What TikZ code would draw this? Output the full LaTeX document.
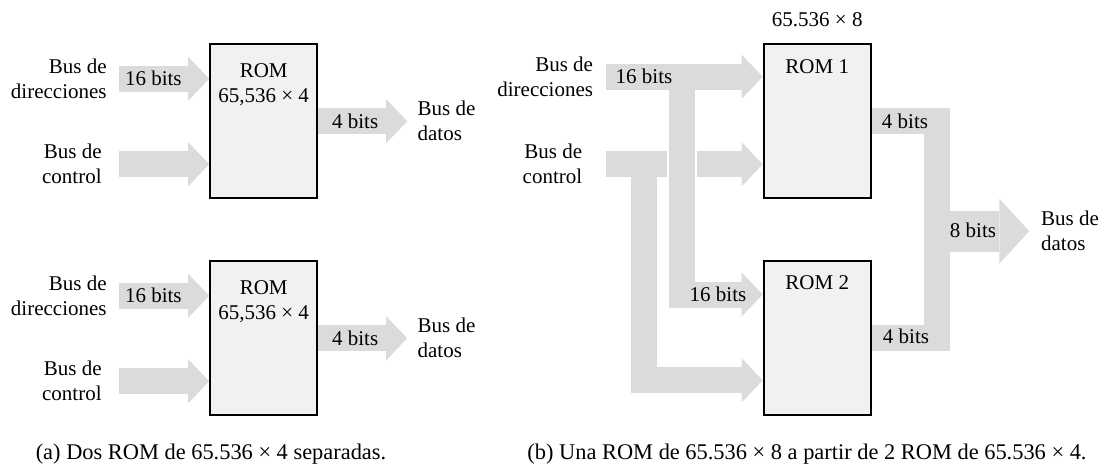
\documentclass[tikz,border=0pt]{standalone}
\usepackage{fontspec}
\setmainfont{Liberation Serif}
\usepackage{tikz}
\usetikzlibrary{arrows.meta,positioning,calc,backgrounds}
\definecolor{busgray}{RGB}{218,219,221}
\definecolor{romfill}{RGB}{240,241,240}
\tikzset{
  rom/.style={draw=black, line width=1pt, fill=romfill, minimum width=53.5pt, minimum height=77pt, inner sep=0pt},
  romtxt/.style={align=center, inner sep=0pt},
  busline/.style={draw=busgray, line width=13pt},
  bus/.style={busline, -{Triangle[length=10.5pt, width=22pt, line width=0pt]}},
  bus8/.style={draw=busgray, line width=20.5pt, -{Triangle[length=15pt, width=32.5pt, line width=0pt]}},
  bits/.style={inner sep=0pt},
  lbl/.style={inner sep=0pt, align=right},
  lblr/.style={inner sep=0pt, align=left},
  captxt/.style={inner sep=0pt, font=\fontsize{11.2}{13.5}\selectfont},
}

\begin{document}
\begin{tikzpicture}[x=0.5pt, y=-0.5pt, font=\fontsize{10.5}{12.5}\selectfont]
			\useasboundingbox (0,0) rectangle (1106,467);
			% (a) two separate ROMs
			\foreach \i/\dy in {1/0,2/217}{
				\node[rom] (romA\i) at (263.7,{121.2+\dy}) {};
				\node[romtxt, below=10pt of romA\i.north] (romAt\i) {ROM\\65,536 × 4};
				\coordinate (adA\i) at (119,{78.8+\dy});
				\coordinate (ctA\i) at (119,{164.2+\dy});
				\coordinate (dtA\i) at ($(romA\i.east)+(89,0)$);
				\begin{scope}[on background layer]
					\draw[bus] (adA\i) -- (adA\i -| romA\i.west);
					\draw[bus] (ctA\i) -- (ctA\i -| romA\i.west);
					\draw[bus] (romA\i.east) -- (dtA\i);
				\end{scope}
				\node[bits] (bA\i) at ($(adA\i)+(34.3,0)$) {16 bits};
				\node[bits] (oA\i) at ($(romA\i.east)+(37,0)$) {4 bits};
				\node[lbl, left=6pt of adA\i] (adlA\i) {Bus de\\direcciones};
				\node[lbl, left=8.5pt of ctA\i] (ctlA\i) {Bus de\\control};
				\node[lblr, right=5pt of dtA\i] (dtlA\i) {Bus de\\datos};
			}
			% (b) one 65.536 x 8 ROM from two
			\node[rom] (romB1) at (817.2,121.3) {};
			\node[rom] (romB2) at (817.2,337.5) {};
			\node[romtxt, below=8pt of romB1.north] (romBt1) {ROM 1};
			\node[romtxt, below=8pt of romB2.north] (romBt2) {ROM 2};
			\node[inner sep=0pt, above=8pt of romB1.north] (size) {65.536 × 8};
			\coordinate (adB) at (606,76.7);
			\coordinate (adV) at (682,76.7);
			\coordinate (adV2) at (682,294.5);
			\coordinate (ctB) at (606,164.3);
			\coordinate (ctV) at (643.7,164.3);
			\coordinate (ctV2) at (643.7,380.3);
			\coordinate (dtV) at (937,231.2);
			\coordinate (dtB) at (1029.3,231.2);
			\coordinate (cross) at (adV |- ctB);
			\begin{scope}[on background layer]
				\draw[bus] (ctB) -- (ctB -| romB1.west);
				\draw[bus] (ctV) -- (ctV2) -- (ctV2 -| romB2.west);
				\fill[white] ($(cross)+(-15,-17)$) rectangle ($(cross)+(15,17)$);
				\draw[bus] (adB) -- (adB -| romB1.west);
				\draw[bus] (adV) -- (adV2) -- (adV2 -| romB2.west);
				\draw[busline] (romB1.east) -- (romB1.east -| dtV) -- (romB2.east -| dtV) -- (romB2.east);
				\draw[bus8] (dtV) -- (dtB);
			\end{scope}
			\node[bits] (bB1) at (644,76.7) {16 bits};
			\node[bits] (bB2) at (718,294.5) {16 bits};
			\node[bits] (oB1) at (905,121) {4 bits};
			\node[bits] (oB2) at (906,336.5) {4 bits};
			\node[bits] (oB3) at (973,230.5) {8 bits};
			\node[lbl, left=6.3pt of adB] (adlB) {Bus de\\direcciones};
			\node[lbl, left=11.7pt of ctB] (ctlB) {Bus de\\control};
			\node[lblr, right=5.7pt of dtB] (dtlB) {Bus de\\datos};
			% captions
			\node[captxt] (capA) at (211,454) {(a) Dos ROM de 65.536 × 4 separadas.};
			\node[captxt] (capB) at (807,454) {(b) Una ROM de 65.536 × 8 a partir de 2 ROM de 65.536 × 4.};
		\end{tikzpicture}
\end{document}
